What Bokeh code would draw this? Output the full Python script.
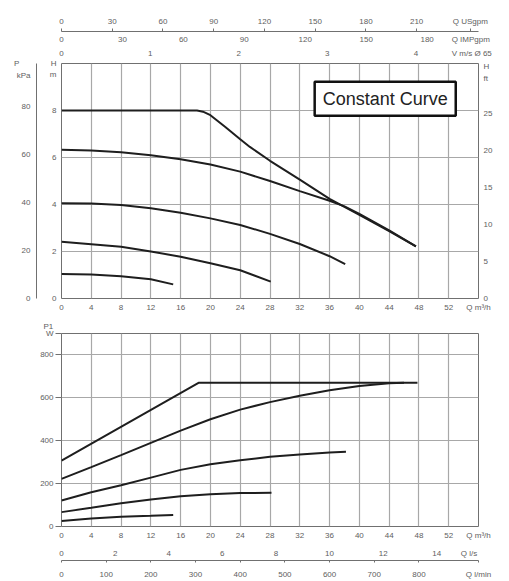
from bokeh.plotting import figure
from bokeh.models import LinearAxis, Range1d, FixedTicker, Label, Grid, Title
from bokeh.layouts import column
from bokeh.embed import file_html
from bokeh.resources import INLINE

# ---------------- data: head curves (H m vs Q m3/h) ----------------
qa_h = [0, 4, 8, 12, 16, 18.2, 19.0, 20, 22, 24, 25.3, 28, 32, 36, 38, 40, 44, 47.6]
ha_h = [8.0, 8.0, 8.0, 8.0, 8.0, 8.0, 7.95, 7.8, 7.3, 6.78, 6.45, 5.86, 5.06, 4.24, 3.9, 3.56, 2.87, 2.22]
qb_h = [0, 4, 8, 12, 16, 20, 24, 28, 32, 36, 38, 40, 44, 47.6]
hb_h = [6.33, 6.3, 6.22, 6.1, 5.93, 5.7, 5.4, 5.0, 4.57, 4.16, 3.92, 3.6, 2.9, 2.22]
qc_h = [0, 4, 8, 12, 16, 20, 24, 28, 32, 36, 38.1]
hc_h = [4.05, 4.04, 3.98, 3.84, 3.65, 3.41, 3.13, 2.75, 2.32, 1.8, 1.46]
qd_h = [0, 4, 8, 12, 16, 20, 24, 28.1]
hd_h = [2.41, 2.31, 2.2, 2.0, 1.78, 1.5, 1.2, 0.72]
qe_h = [0, 4, 8, 12, 15]
he_h = [1.04, 1.02, 0.95, 0.82, 0.6]

# ---------------- data: power curves (P1 W vs Q m3/h) ----------------
qa_p = [0, 18.4, 47.8]
pa_p = [307, 670, 670]
qb_p = [0, 4, 8, 12, 16, 20, 24, 28, 32, 36, 40, 44, 46]
pb_p = [222, 277, 333, 390, 447, 500, 545, 580, 610, 635, 655, 668, 670]
qc_p = [0, 4, 8, 12, 16, 20, 24, 28, 32, 36, 38.2]
pc_p = [121, 160, 192, 228, 264, 290, 309, 325, 336, 345, 348]
qd_p = [0, 4, 8, 12, 16, 20, 24, 28.2]
pd_p = [67, 87, 108, 126, 141, 150, 156, 157]
qe_p = [0, 4, 8, 12, 15]
pe_p = [26, 37, 45, 50, 54]

# ---------------- ranges / ticks ----------------
Q_MAX = 56
H_MAX = 10
W_MAX = 900
USG_MAX = Q_MAX * 4.403
IMP_MAX = Q_MAX * 3.666
VEL_MAX = Q_MAX / 11.9
KPA_MAX = H_MAX * 9.81
FT_MAX = 31.7
LS_MAX = Q_MAX / 3.6
LMIN_MAX = Q_MAX * 1000 / 60

q_ticks = [0, 4, 8, 12, 16, 20, 24, 28, 32, 36, 40, 44, 48, 52]
q_grid = q_ticks + [56]
h_ticks = [0, 2, 4, 6, 8]
kpa_ticks = [0, 20, 40, 60, 80]
ft_ticks = [0, 5, 10, 15, 20, 25]
usg_ticks = [0, 30, 60, 90, 120, 150, 180, 210]
imp_ticks = [0, 30, 60, 90, 120, 150, 180]
vel_ticks = [0, 1, 2, 3, 4]
w_ticks = [0, 200, 400, 600, 800]
ls_ticks = [0, 2, 4, 6, 8, 10, 12, 14]
lmin_ticks = [0, 100, 200, 300, 400, 500, 600, 700, 800]

# unit captions (placed as extra tick labels on their own axes)
q_unit = {Q_MAX: "Q m³/h"}
h_unit = {9.52: "m", 10: "H"}
kpa_unit = {93.0: "kPa", 98.0: "P" + "\u00a0" * 5}
ft_unit = {29.64: "ft", 31.26: "H"}
usg_unit = {241.7: "Q USgpm"}
imp_unit = {201.5: "Q IMPgpm"}
vel_unit = {4.63: "V m/s Ø 65"}
w_unit = {900: "W"}
ls_unit = {15.2: "Q l/s"}
lmin_unit = {LMIN_MAX: "Q l/min"}

FONT = "Liberation Sans"
TCOL = "#606060"
GCOL = "#a8a8a8"
LCOL = "#1e1e1e"


def make_axis(ticks, unit, range_name=None, dim="x", line=False, tick_out=0, standoff=3):
    kw = {}
    if range_name:
        kw["x_range_name" if dim == "x" else "y_range_name"] = range_name
    ax = LinearAxis(ticker=FixedTicker(ticks=list(ticks) + list(unit.keys())), **kw)
    ax.major_label_overrides = dict(unit)
    ax.axis_line_color = "#707070" if line else None
    ax.major_tick_out = tick_out
    ax.major_tick_in = 0
    ax.minor_tick_out = 0
    ax.minor_tick_in = 0
    ax.major_tick_line_color = "#707070" if tick_out else None
    ax.major_label_standoff = standoff
    ax.major_label_text_font = FONT
    ax.major_label_text_font_size = "8px"
    ax.major_label_text_color = TCOL
    return ax


def spacer(ax, gap):
    ax.axis_label = " "
    ax.axis_label_text_font_size = "1px"
    ax.axis_label_standoff = gap
    return ax


# ================= top chart =================
p1 = figure(width=509, height=315, x_range=Range1d(0, Q_MAX), y_range=Range1d(0, H_MAX),
            output_backend="svg", toolbar_location=None,
            x_axis_location=None, y_axis_location=None,
            min_border_left=61, min_border_right=31, min_border_top=63, min_border_bottom=17)
p1.xgrid.visible = False
p1.ygrid.visible = False
p1.outline_line_color = "#707070"
p1.extra_x_ranges = {"usg": Range1d(0, USG_MAX), "imp": Range1d(0, IMP_MAX), "vel": Range1d(0, VEL_MAX)}
p1.extra_y_ranges = {"kpa": Range1d(0, KPA_MAX), "ft": Range1d(0, FT_MAX)}

p1.add_layout(Grid(dimension=0, ticker=FixedTicker(ticks=q_grid), grid_line_color=GCOL, grid_line_width=1.2))
p1.add_layout(Grid(dimension=1, ticker=FixedTicker(ticks=h_ticks + [10]), grid_line_color=GCOL, grid_line_width=1.2))

p1.add_layout(make_axis(q_ticks, q_unit, standoff=4), "below")
p1.add_layout(spacer(make_axis(h_ticks, h_unit, dim="y", standoff=5), 6), "left")
p1.add_layout(make_axis(kpa_ticks, kpa_unit, "kpa", dim="y", line=True, standoff=6), "left")
p1.add_layout(make_axis(ft_ticks, ft_unit, "ft", dim="y", standoff=5), "right")
p1.add_layout(make_axis(vel_ticks, vel_unit, "vel", standoff=6), "above")
p1.add_layout(make_axis(imp_ticks, imp_unit, "imp", standoff=2), "above")
p1.add_layout(make_axis(usg_ticks, usg_unit, "usg", line=True, tick_out=3, standoff=3), "above")

for q, h in [(qa_h, ha_h), (qb_h, hb_h), (qc_h, hc_h), (qd_h, hd_h), (qe_h, he_h)]:
    p1.line(q, h, line_width=2, color=LCOL)

p1.add_layout(Label(x=34.0, y=9.22, text="Constant Curve", text_align="left", text_baseline="top",
                    text_font=FONT, text_font_size="18px",
                    text_color="#222222", border_line_color="#111111", border_line_width=2.5,
                    background_fill_color="white", padding=(8, 7)))

# ================= bottom chart =================
p2 = figure(width=509, height=266, x_range=Range1d(0, Q_MAX), y_range=Range1d(0, W_MAX),
            output_backend="svg", toolbar_location=None,
            x_axis_location=None, y_axis_location=None,
            min_border_left=61, min_border_right=31, min_border_top=18, min_border_bottom=54)
p2.xgrid.visible = False
p2.ygrid.visible = False
p2.outline_line_color = "#707070"
p2.extra_x_ranges = {"ls": Range1d(0, LS_MAX), "lmin": Range1d(0, LMIN_MAX)}

p2.add_layout(Grid(dimension=0, ticker=FixedTicker(ticks=q_grid), grid_line_color=GCOL, grid_line_width=1.2))
p2.add_layout(Grid(dimension=1, ticker=FixedTicker(ticks=w_ticks), grid_line_color=GCOL, grid_line_width=1.2))

p2.add_layout(make_axis(q_ticks, q_unit, standoff=4), "below")
p2.add_layout(make_axis(ls_ticks, ls_unit, "ls", standoff=6), "below")
p2.add_layout(make_axis(lmin_ticks, lmin_unit, "lmin", line=True, tick_out=2, standoff=7), "below")
p2.add_layout(make_axis(w_ticks, w_unit, dim="y", tick_out=6, standoff=2), "left")
p2.add_layout(Title(text="P1", align="left", offset=-18, standoff=6, text_font=FONT,
                    text_font_size="8px", text_font_style="normal", text_color=TCOL), "above")

for q, w in [(qa_p, pa_p), (qb_p, pb_p), (qc_p, pc_p), (qd_p, pd_p), (qe_p, pe_p)]:
    p2.line(q, w, line_width=2, color=LCOL)

page = column(p1, p2)
open("out.html", "w").write(file_html(page, INLINE))
